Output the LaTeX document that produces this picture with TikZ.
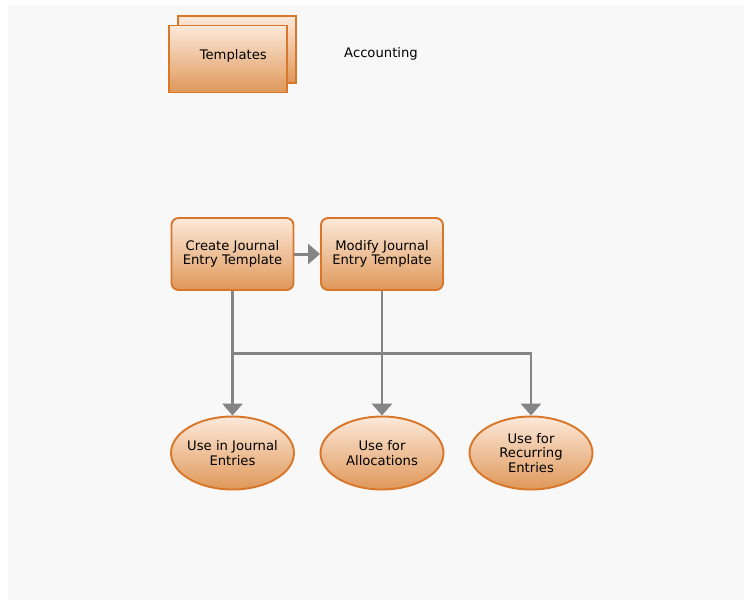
\documentclass[tikz,border=0pt]{standalone}
\usepackage{fontspec}
\setmainfont{DejaVu Sans}
\usepackage{tikz}
\usetikzlibrary{positioning,arrows.meta,shapes.geometric}
\definecolor{bordero}{HTML}{D8772A}
\definecolor{topo}{HTML}{FCE9DA}
\definecolor{boto}{HTML}{DF9859}
\definecolor{linegray}{HTML}{858585}
\definecolor{bggray}{HTML}{F8F8F8}

\begin{document}
\begin{tikzpicture}[x=0.02cm, y=-0.02cm,
  every node/.style={font=\fontsize{7.5}{8.2}\selectfont, align=center},
  tpl/.style={draw=bordero, line width=1.1pt, top color=topo, bottom color=boto,
    minimum width=2.36cm, minimum height=1.34cm},
  box/.style={draw=bordero, line width=1.1pt, rounded corners=4pt, top color=topo, bottom color=boto,
    minimum width=2.44cm, minimum height=1.44cm, inner sep=1pt},
  usecase/.style={ellipse, draw=bordero, line width=1.1pt, top color=topo, bottom color=boto,
    minimum width=2.46cm, minimum height=1.46cm, inner xsep=-12pt, inner ysep=-6pt},
  arr/.style={-{Triangle[width=0.4cm, length=0.24cm]}, draw=linegray, line width=1.7pt}]
\useasboundingbox (0,0) rectangle (744,600);
\fill[bggray] (8,5) rectangle (744,600);
% header
\node[tpl] (tplback) at (237,49.5) {};
\node[tpl, text depth=5.5pt, text width=2.1cm, align=center] (tpl) at (228,59) {\hspace*{6pt}Templates};
\node (acc) at (381,54) {Accounting};
% templates
\node[box] (create) at (232.5,254) {Create Journal\\Entry Template};
\node[box] (modify) at (382,254) {Modify Journal\\Entry Template};
% uses
\node[usecase] (journal) at (232.5,453) {Use in Journal\\Entries};
\node[usecase] (alloc) at (382,453) {Use for\\Allocations};
\node[usecase] (recur) at (531,453) {Use for\\Recurring\\Entries};
\coordinate (split) at (232.5,353);
\draw[arr] (create) -- (modify);
\draw[arr] (create) -- (journal);
\draw[arr] (modify) -- (alloc);
\draw[arr] (split) -| (recur);
\end{tikzpicture}
\end{document}
